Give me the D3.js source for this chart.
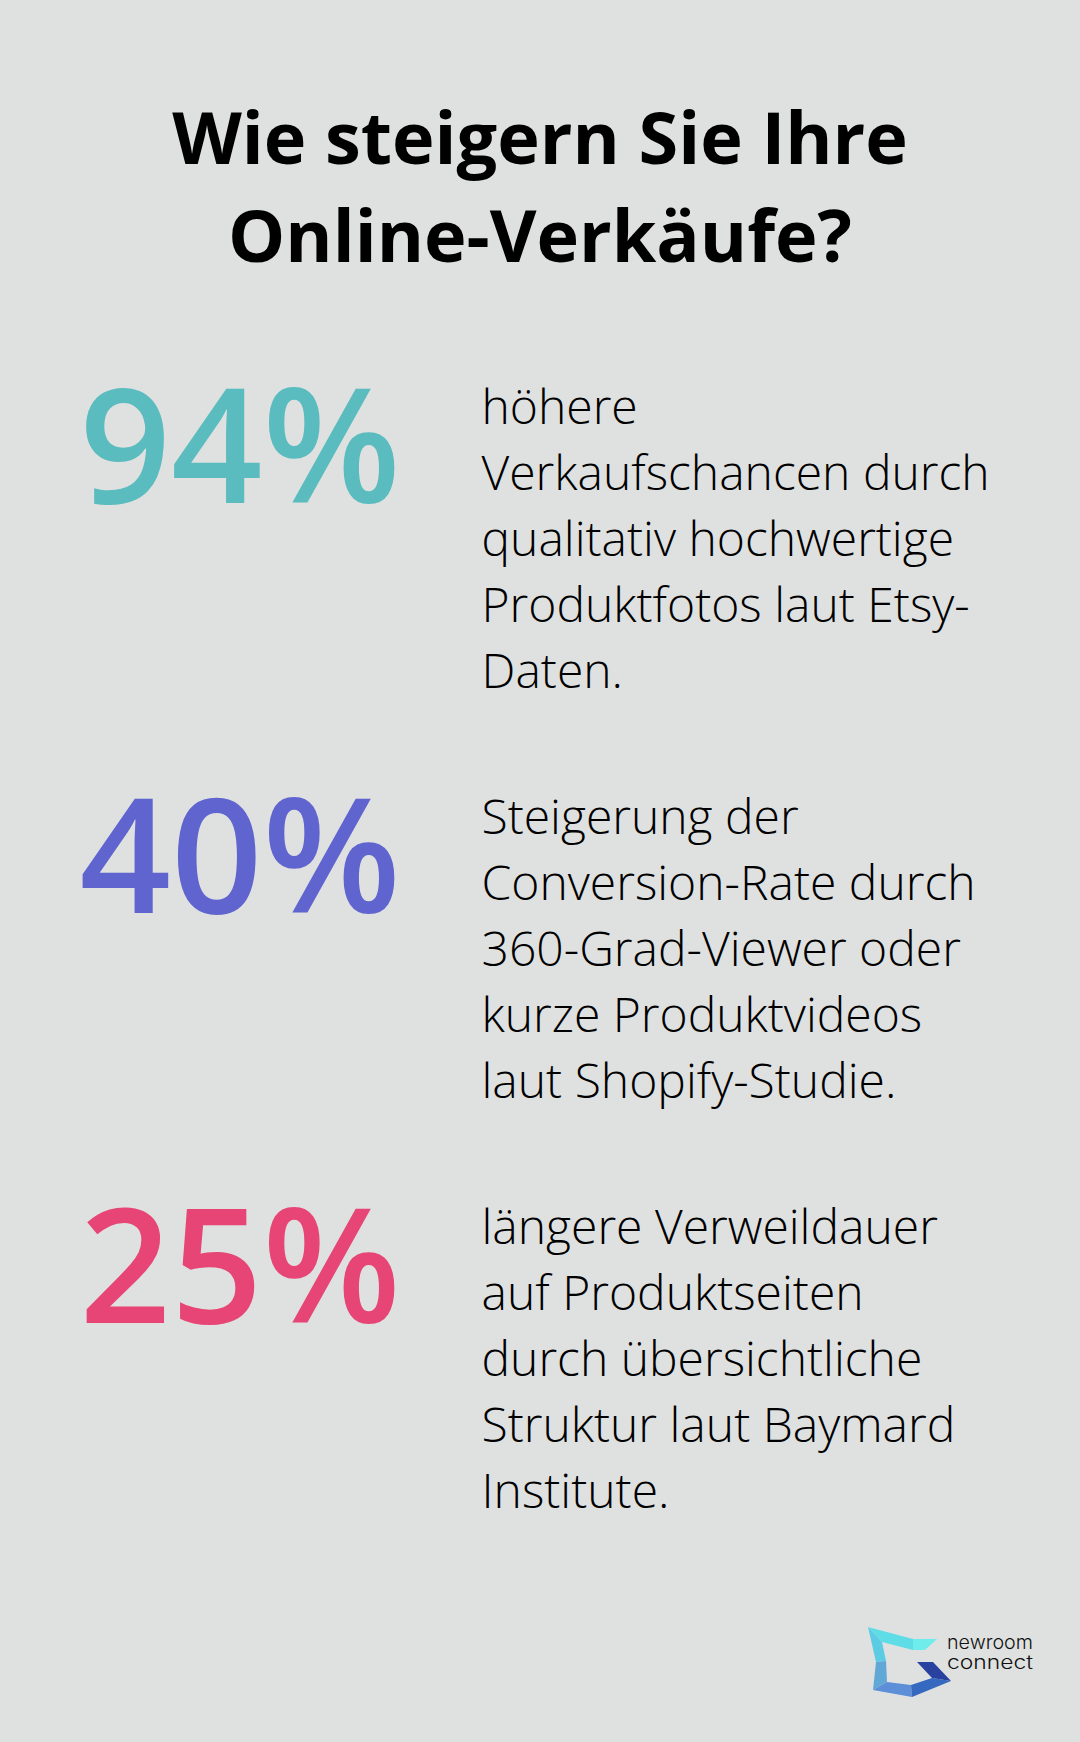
<!DOCTYPE html>
<html>
<head>
<meta charset="utf-8">
<script src="https://cdn.jsdelivr.net/npm/d3@7"></script>
<style>
  html, body { margin: 0; padding: 0; background: #dfe1e0; }
  svg { display: block; }
  text { font-family: "Open Sans", sans-serif; }
</style>
</head>
<body>
<div id="chart"></div>
<script>
var titleLines = ["Wie steigern Sie Ihre", "Online-Verkäufe?"];
var percents = [94, 40, 25];
var colors = ["#5bbcbf", "#6064cf", "#e64575"];
var descriptions = [
  ["höhere", "Verkaufschancen durch", "qualitativ hochwertige", "Produktfotos laut Etsy-", "Daten."],
  ["Steigerung der", "Conversion-Rate durch", "360-Grad-Viewer oder", "kurze Produktvideos", "laut Shopify-Studie."],
  ["längere Verweildauer", "auf Produktseiten", "durch übersichtliche", "Struktur laut Baymard", "Institute."]
];
var logoWords = ["newroom", "connect"];

var width = 1080, height = 1742;

var svg = d3.select("#chart").append("svg")
  .attr("width", width)
  .attr("height", height);

svg.append("rect")
  .attr("width", width)
  .attr("height", height)
  .attr("fill", "#dfe1e0");

// Title
svg.selectAll(".title")
  .data(titleLines)
  .enter().append("text")
  .attr("class", "title")
  .attr("x", 540)
  .attr("y", function(d, i) { return 164 + i * 98; })
  .attr("text-anchor", "middle")
  .attr("font-size", 72)
  .attr("font-weight", 700)
  .attr("fill", "#000")
  .text(function(d) { return d; });

// One row per percentage
var rowY = d3.scalePoint()
  .domain(d3.range(percents.length))
  .range([0, 820]);

var rows = svg.selectAll(".row")
  .data(percents)
  .enter().append("g")
  .attr("class", "row")
  .attr("transform", function(d, i) { return "translate(0," + rowY(i) + ")"; });

rows.append("text")
  .attr("x", 79.5)
  .attr("y", 503)
  .attr("font-size", 160)
  .attr("font-weight", 600)
  .attr("fill", function(d, i) { return colors[i]; })
  .text(function(d) { return d + "%"; });

rows.each(function(d, i) {
  d3.select(this).selectAll(".desc")
    .data(descriptions[i])
    .enter().append("text")
    .attr("class", "desc")
    .attr("x", 481.5)
    .attr("y", function(line, j) { return 424 + j * 66; })
    .attr("font-size", 48)
    .attr("font-weight", 300)
    .attr("fill", "#000")
    .text(function(line) { return line; });
});

// Logo, facets of the mark then the two words
var logoFacets = [
  {fill: "#5fdde6", pts: [[868,1627],[913,1639],[913,1650],[882,1642]]},
  {fill: "#6fecec", pts: [[913,1639],[937,1639],[925,1650],[913,1650]]},
  {fill: "#5ccbe4", pts: [[868,1627],[882,1642],[886,1661],[876,1662]]},
  {fill: "#62a8d6", pts: [[876,1662],[886,1661],[887,1682],[873,1690]]},
  {fill: "#5c8fd8", pts: [[873,1690],[887,1682],[911,1685],[912,1697]]},
  {fill: "#3568bf", pts: [[911,1685],[932,1678],[951,1681],[912,1697]]},
  {fill: "#2a429f", pts: [[917,1662],[933,1662],[951,1681],[932,1678]]}
];

svg.selectAll(".facet")
  .data(logoFacets)
  .enter().append("polygon")
  .attr("class", "facet")
  .attr("fill", function(d) { return d.fill; })
  .attr("points", function(d) { return d.pts.join(" "); });

svg.selectAll(".logo-word")
  .data(logoWords)
  .enter().append("text")
  .attr("class", "logo-word")
  .attr("x", 947)
  .attr("y", function(d, i) { return 1649 + i * 20; })
  .attr("font-size", 18.5)
  .attr("font-weight", 300)
  .attr("textLength", 86)
  .attr("lengthAdjust", "spacingAndGlyphs")
  .style("font-family", "Inter, sans-serif")
  .attr("fill", "#111")
  .text(function(d) { return d; });
</script>
</body>
</html>
